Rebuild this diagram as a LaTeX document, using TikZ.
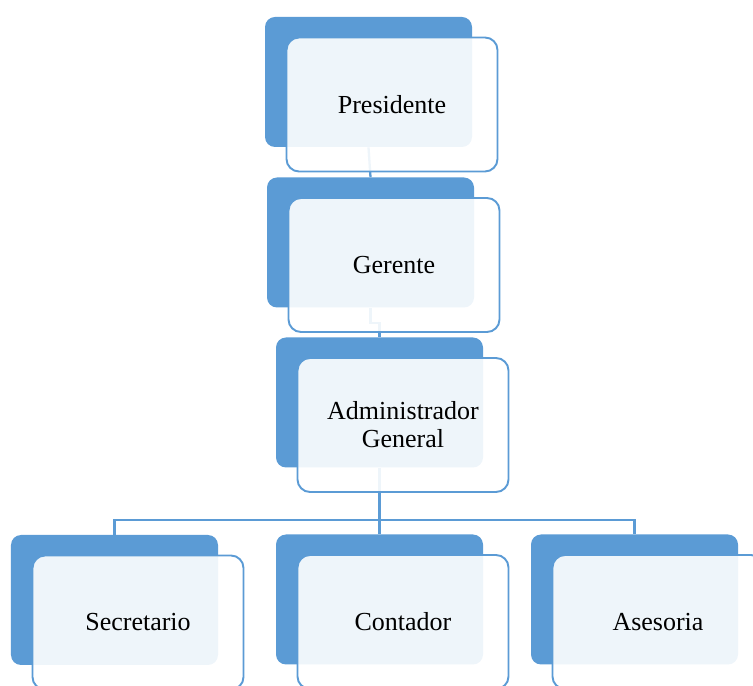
\documentclass[tikz,border=0pt]{standalone}
\usepackage{fontspec}
\setmainfont{Liberation Serif}
\definecolor{azul}{HTML}{5B9BD5}
\begin{document}
\begin{tikzpicture}[
    back/.style={rectangle,rounded corners=0.2cm,fill=azul,minimum width=4.14cm,minimum height=2.6cm,inner sep=0pt},
    front/.style={rectangle,rounded corners=0.25cm,draw=azul,line width=1.1pt,fill=white,fill opacity=0.9,text opacity=1,
        minimum width=4.22cm,minimum height=2.68cm,inner sep=0pt,align=center,font=\fontsize{14.8}{16}\selectfont},
    link/.style={draw=azul,line width=1.3pt}]
    \clip (0,0) rectangle (15.06,-13.72);

    % Cajas de fondo
    \node[back] (pres) at (7.37,-1.64) {};
    \node[back] (ger) at (7.41,-4.85) {};
    \node[back] (adm) at (7.59,-8.05) {};
    \node[back] (sec) at (2.29,-12.0) {};
    \node[back] (con) at (7.59,-11.99) {};
    \node[back] (ase) at (12.69,-11.99) {};

    % Conectores
    \draw[link] (pres.south) -- (ger.north);
    \draw[link] (ger.south) -- ++(0,-0.3) -| (adm.north);
    \draw[link] (adm.south) -- ++(0,-1.04) -| (sec.north);
    \draw[link] (adm.south) -- ++(0,-1.04) -| (con.north);
    \draw[link] (adm.south) -- ++(0,-1.04) -| (ase.north);

    % Cajas con texto
    \node[front] (presT) at ([xshift=0.47cm,yshift=-0.45cm]pres.center) {Presidente};
    \node[front] (gerT) at ([xshift=0.47cm,yshift=-0.45cm]ger.center) {Gerente};
    \node[front] (admT) at ([xshift=0.47cm,yshift=-0.45cm]adm.center) {Administrador\\General};
    \node[front] (secT) at ([xshift=0.47cm,yshift=-0.45cm]sec.center) {Secretario};
    \node[front] (conT) at ([xshift=0.47cm,yshift=-0.45cm]con.center) {Contador};
    \node[front] (aseT) at ([xshift=0.47cm,yshift=-0.45cm]ase.center) {Asesoria};
\end{tikzpicture}
\end{document}
